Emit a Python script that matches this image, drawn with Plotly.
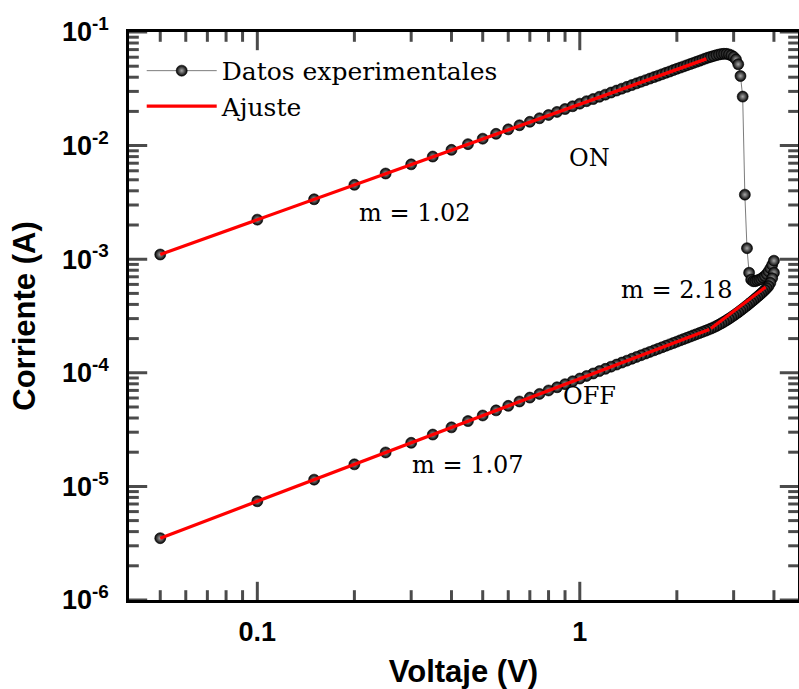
import numpy as np
import plotly.graph_objects as go

# voltage sweep (V), 0.05 V steps
volts = [0.05, 0.10, 0.15, 0.20, 0.25, 0.30, 0.35, 0.40, 0.45, 0.50,
         0.55, 0.60, 0.65, 0.70, 0.75, 0.80, 0.85, 0.90, 0.95, 1.00,
         1.05, 1.10, 1.15, 1.20, 1.25, 1.30, 1.35, 1.40, 1.45, 1.50,
         1.55, 1.60, 1.65, 1.70, 1.75, 1.80, 1.85, 1.90, 1.95, 2.00,
         2.05, 2.10, 2.15, 2.20, 2.25, 2.30, 2.35, 2.40, 2.45, 2.50,
         2.55, 2.60, 2.65, 2.70, 2.75, 2.80, 2.85, 2.90, 2.95, 3.00,
         3.05, 3.10, 3.15, 3.20, 3.25, 3.30, 3.35, 3.40, 3.45, 3.50,
         3.55, 3.60, 3.65, 3.70, 3.75, 3.80, 3.85, 3.90, 3.95, 4.00]

# ON state (mA), 0.05 -> 3.35 V, incl. reset drop
i_on_mA = [1.10, 2.23, 3.37, 4.52, 5.68, 6.84, 8.01, 9.17, 10.3, 11.5,
           12.7, 13.9, 15.1, 16.2, 17.4, 18.6, 19.8, 21.0, 22.2, 23.4,
           24.6, 25.7, 26.9, 28.1, 29.3, 30.5, 31.7, 32.9, 34.1, 35.3,
           36.5, 37.7, 38.9, 40.1, 41.3, 42.5, 43.7, 44.9, 46.2, 47.4,
           48.6, 49.8, 51.0, 52.2, 53.4, 54.6, 55.8, 57.1, 58.3, 59.5,
           60.5, 61.5, 62.5, 63.3, 64.0, 64.3, 64.2, 63.5, 62.3, 60.5,
           57.5, 52.0, 41.0, 27.0, 3.7, 1.25, 0.76]

# after reset, 3.40 -> 4.00 V (mA)
i_reset_mA = [0.66, 0.64, 0.64, 0.65, 0.66, 0.67, 0.69, 0.71, 0.74, 0.78,
              0.83, 0.89, 0.97]

# OFF state (mA), indexed like volts (return sweep 4.00 -> 0.05)
i_off_mA = [0.00350, 0.00740, 0.01147, 0.01564, 0.0199, 0.0242, 0.0286, 0.0331, 0.0376, 0.0421,
            0.0467, 0.0512, 0.0559, 0.0605, 0.0652, 0.0699, 0.0746, 0.0794, 0.0842, 0.0890,
            0.0938, 0.0986, 0.1035, 0.1083, 0.1132, 0.1181, 0.1230, 0.1279, 0.1329, 0.1379,
            0.1428, 0.1478, 0.1528, 0.1578, 0.1628, 0.1678, 0.1729, 0.1779, 0.1830, 0.1880,
            0.1932, 0.1983, 0.2033, 0.2084, 0.2136, 0.2186, 0.2239, 0.2290, 0.2341, 0.2394,
            0.245, 0.251, 0.258, 0.265, 0.273, 0.281, 0.290, 0.299, 0.309, 0.319,
            0.330, 0.341, 0.353, 0.365, 0.378, 0.391, 0.405, 0.419, 0.434, 0.449,
            0.465, 0.481, 0.498, 0.516, 0.535, 0.556, 0.58, 0.62, 0.68, 0.76]

# linear fits (end points)
fit_on_v = [0.05, 2.47]
fit_on_i = [1.10e-3, 5.8e-2]
fit_off1_v = [0.05, 2.52]
fit_off1_i = [3.5e-6, 2.4e-4]
fit_off2_v = [2.55, 3.77]
fit_off2_i = [2.45e-4, 5.7e-4]

x_major = [0.1, 1]
x_minor = [0.05, 0.06, 0.07, 0.08, 0.09, 0.2, 0.3, 0.4, 0.5, 0.6, 0.7, 0.8, 0.9, 2, 3, 4]
y_major = [1e-6, 1e-5, 1e-4, 1e-3, 1e-2, 1e-1]
y_labels = ["10<sup>-6</sup>", "10<sup>-5</sup>", "10<sup>-4</sup>",
            "10<sup>-3</sup>", "10<sup>-2</sup>", "10<sup>-1</sup>"]
y_minor = [m * 10.0 ** e for e in range(-6, -1) for m in range(2, 10)]

n_on = len(i_on_mA)
v_all = volts[:n_on] + volts[n_on:] + volts[::-1]
i_all = [v * 1e-3 for v in i_on_mA + i_reset_mA + i_off_mA[::-1]]

serif = "DejaVu Serif"
sans = "Liberation Sans"
x_lo, x_hi = 0.04, 4.75
y_lo, y_hi = 1e-6, 1e-1

fig = go.Figure()
fig.add_trace(go.Scatter(
    x=v_all, y=i_all, mode="lines+markers", name="Datos experimentales",
    line=dict(color="#444444", width=0.7),
    marker=dict(size=11, color="#000000", line=dict(color="#000000", width=0.6),
                gradient=dict(type="radial", color="#a8a8a8"))))
fig.add_trace(go.Scatter(
    x=fit_on_v + [None] + fit_off1_v + [None] + fit_off2_v,
    y=fit_on_i + [None] + fit_off1_i + [None] + fit_off2_i,
    mode="lines", name="Ajuste", connectgaps=False,
    line=dict(color="#ff0000", width=3.2)))

# inward frame ticks: line markers on the frame edges, outer half clipped by the plot area
xt = x_major + x_minor
xt_len = [26] * len(x_major) + [14] * len(x_minor)
fig.add_trace(go.Scatter(
    x=xt + xt, y=[y_lo] * len(xt) + [y_hi] * len(xt), mode="markers", cliponaxis=True,
    marker=dict(symbol="line-ns", size=xt_len + xt_len, color="black",
                line=dict(color="black", width=3)),
    showlegend=False, hoverinfo="skip"))
yt = y_major + y_minor
yt_len = [26] * len(y_major) + [14] * len(y_minor)
fig.add_trace(go.Scatter(
    x=[x_lo] * len(yt) + [x_hi] * len(yt), y=yt + yt, mode="markers", cliponaxis=True,
    marker=dict(symbol="line-ew", size=yt_len + yt_len, color="black",
                line=dict(color="black", width=3)),
    showlegend=False, hoverinfo="skip"))

labels = [("ON", 1.07, 7.8e-3), ("m = 1.02", 0.308, 2.55e-3), ("m = 2.18", 2.0, 5.36e-4),
          ("OFF", 1.07, 6.2e-5), ("m = 1.07", 0.45, 1.54e-5)]
for txt, lx, ly in labels:
    fig.add_annotation(x=np.log10(lx), y=np.log10(ly), text=txt, showarrow=False,
                       font=dict(family=serif, size=24, color="black"))

tickfont = dict(family=sans, size=27, color="black", weight="bold")
titlefont = dict(family=sans, size=31, color="black", weight="bold")
plain = dict(type="log", showline=True, linewidth=2.5, linecolor="black", mirror=True,
             showgrid=False, zeroline=False, automargin=False, tickmode="array", ticks="")

fig.update_layout(
    template="none",
    width=799, height=689,
    margin=dict(l=129, r=1, t=32, b=89),
    paper_bgcolor="white", plot_bgcolor="white",
    xaxis=dict(range=[np.log10(x_lo), np.log10(x_hi)], tickvals=x_major, ticktext=["0.1", "1"],
               tickfont=tickfont, ticklabelstandoff=6,
               title=dict(text="Voltaje (V)", standoff=16, font=titlefont), **plain),
    yaxis=dict(range=[np.log10(y_lo), np.log10(y_hi)], tickvals=y_major, ticktext=y_labels,
               tickfont=tickfont, ticklabelstandoff=12,
               title=dict(text="Corriente (A)", standoff=18, font=titlefont), **plain),
    showlegend=True,
    legend=dict(x=0.019, y=0.972, xanchor="left", yanchor="top",
                bgcolor="rgba(0,0,0,0)", itemwidth=70, tracegroupgap=0,
                font=dict(family=serif, size=25, color="black")),
)

fig.write_html("out.html", config={"displayModeBar": False},
               post_script="document.body.style.margin='0';")
